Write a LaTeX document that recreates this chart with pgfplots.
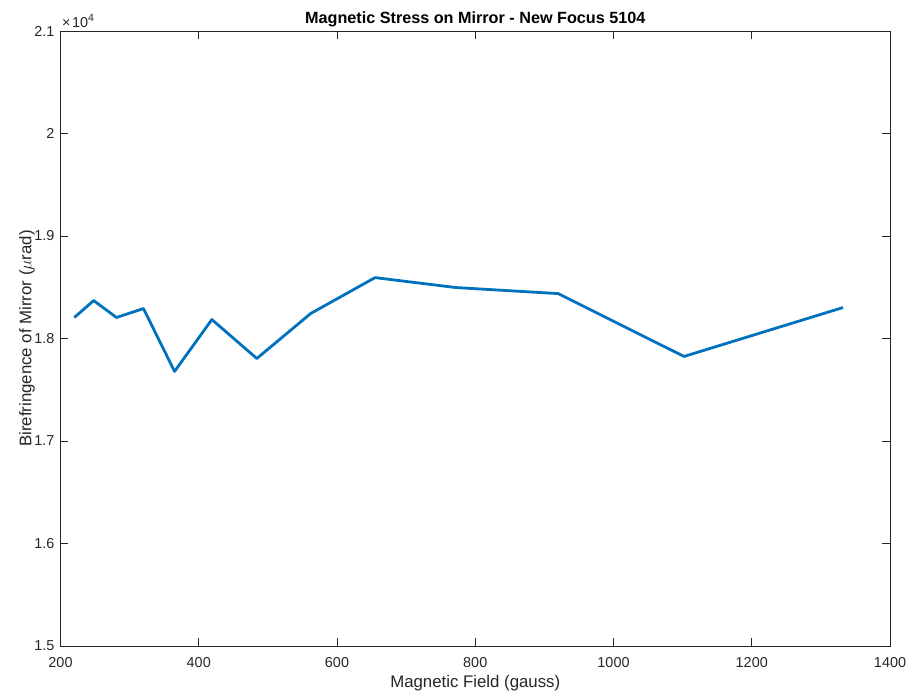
\documentclass[border=0pt]{standalone}
\usepackage{pgfplots}
\pgfplotsset{compat=1.18}
\usepackage{fontspec}
\setmainfont{Liberation Sans}
\definecolor{linecol}{RGB}{0,114,189}
\definecolor{axcol}{RGB}{38,38,38}
\begin{document}
\begin{tikzpicture}
\path[use as bounding box] (-60.5pt,-50pt) rectangle (851.5pt,646pt);
\begin{axis}[
  at={(0,0)}, anchor=south west,
  scale only axis,
  width=829.5pt, height=615pt,
  xmin=200, xmax=1400, ymin=15000, ymax=21000,
  xtick={200,400,...,1400},
  ytick={15000,16000,...,21000},
  scaled y ticks=base 10:-4,
  ytick scale label code/.code={},
  /pgf/number format/assume math mode=true,
  /pgf/number format/1000 sep={},
  y tick label style={/pgf/number format/fixed, /pgf/number format/precision=1, xshift=-2.5pt},
  x tick label style={yshift=-7.5pt},
  tick align=inside,
  major tick length=8pt,
  axis line style={axcol, line width=0.8pt},
  every tick/.style={axcol, line width=0.8pt},
  tick label style={font=\fontsize{14.4}{16}\selectfont, text=axcol},
  label style={font=\fontsize{16.8}{19}\selectfont, text=axcol},
  every axis title shift=0pt,
  title style={font=\bfseries\fontsize{16.2}{19}\selectfont, at={(axis description cs:0.5,1)}, anchor=base, yshift=7pt},
  title={Magnetic Stress on Mirror - New Focus 5104},
  xlabel={Magnetic Field (gauss)},
  ylabel={Birefringence of Mirror ($\mu$rad)},
  xlabel style={at={(axis description cs:0.5,-0.06)}, anchor=center},
  ylabel style={at={(axis description cs:-0.0405,0.5)}, anchor=center},
  clip=false,
]
\addplot[color=linecol, line width=2.8pt, line join=round] coordinates {
  (220,18205)
  (248,18370)
  (281,18205)
  (320,18292)
  (365,17679)
  (419,18185)
  (484,17805)
  (562,18244)
  (655,18594)
  (772,18497)
  (920,18438)
  (1102,17825)
  (1332,18302)
};
% common exponent of the y tick labels
\node[anchor=base west, inner sep=0pt, text=axcol, font=\fontsize{14.4}{16}\selectfont]
  at ([xshift=1.5pt, yshift=3.5pt]rel axis cs:0,1) {×\hspace{1.5pt}10\raisebox{6pt}{\fontsize{10.5}{12}\selectfont 4}};
\end{axis}
\end{tikzpicture}
\end{document}
